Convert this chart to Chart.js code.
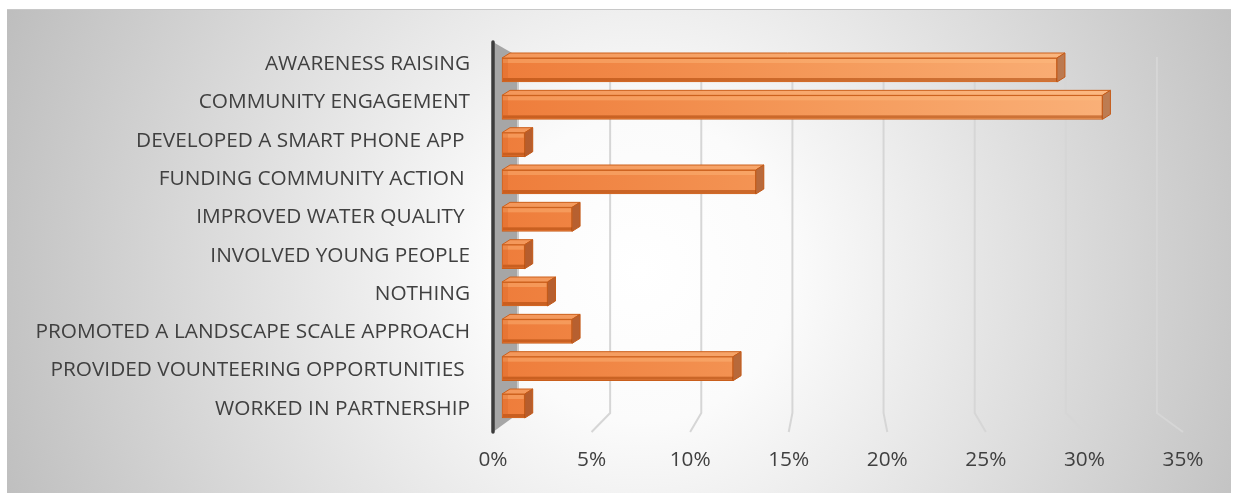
<!DOCTYPE html>
<html>
<head>
<meta charset="utf-8">
<script src="https://cdn.jsdelivr.net/npm/chart.js@4/dist/chart.umd.min.js"></script>
<style>
  html, body { margin: 0; padding: 0; background: #fff; }
  #wrap { width: 1237px; height: 494px; }
</style>
</head>
<body>
<div id="wrap"><canvas id="chart" width="1237" height="494"></canvas></div>
<script>
const categories = [
    'AWARENESS RAISING',
    'COMMUNITY ENGAGEMENT',
    'DEVELOPED A SMART PHONE APP ',
    'FUNDING COMMUNITY ACTION ',
    'IMPROVED WATER QUALITY ',
    'INVOLVED YOUNG PEOPLE',
    'NOTHING',
    'PROMOTED A LANDSCAPE SCALE APPROACH',
    'PROVIDED VOUNTEERING OPPORTUNITIES ',
    'WORKED IN PARTNERSHIP'
]
const shares = [29.3, 31.7, 1.2, 13.4, 3.7, 1.2, 2.4, 3.7, 12.2, 1.2]
const tickMax = 35
const tickStep = 5

const textColor = '#404040'
const labelFont = { family: 'Open Sans', size: 20.8 }

// 3D look: how far the back wall sits behind the front plane
const wallShift = 26
const wallShrink = 0.9246
const barDepthX = 8
const barDepthY = -5

const backX = (area, px) => area.left + wallShift + (px - area.left) * wallShrink

const backdrop = {
    id: 'backdrop',
    beforeDraw(chart) {
        const { ctx, width, height } = chart
        ctx.save()
        ctx.fillStyle = '#ffffff'
        ctx.fillRect(0, 0, width, height)
        const g = ctx.createRadialGradient(640, 270, 0, 640, 270, 690)
        g.addColorStop(0, '#ffffff')
        g.addColorStop(0.22, '#fbfbfb')
        g.addColorStop(1, '#bdbdbd')
        ctx.fillStyle = g
        ctx.fillRect(7, 9, 1224, 484)
        ctx.strokeStyle = '#c8c8c8'
        ctx.lineWidth = 1
        ctx.beginPath()
        ctx.moveTo(7, 9.5)
        ctx.lineTo(1231, 9.5)
        ctx.stroke()
        ctx.restore()
    }
}

const walls = {
    id: 'walls',
    beforeDatasetsDraw(chart) {
        const { ctx, chartArea: a } = chart
        const x = chart.scales.x
        const frontTop = a.top - 3
        const frontBottom = a.bottom + 4
        const backTop = a.top + 12
        const backBottom = a.bottom - 15
        ctx.save()

        // back wall gridlines folding onto the floor
        ctx.strokeStyle = '#d6d6d6'
        ctx.lineWidth = 2
        x.ticks.forEach(t => {
            if (t.value === 0) return
            const fx = x.getPixelForValue(t.value)
            const bx = backX(a, fx)
            ctx.beginPath()
            ctx.moveTo(bx, backTop)
            ctx.lineTo(bx, backBottom)
            ctx.lineTo(fx, frontBottom)
            ctx.stroke()
        })

        // side wall
        const x0 = x.getPixelForValue(0)
        const bx0 = backX(a, x0)
        ctx.fillStyle = '#a6a6a6'
        ctx.beginPath()
        ctx.moveTo(x0, frontTop)
        ctx.lineTo(bx0, backTop)
        ctx.lineTo(bx0, backBottom)
        ctx.lineTo(x0, frontBottom)
        ctx.closePath()
        ctx.fill()
        ctx.fillStyle = 'rgba(255,255,255,0.45)'
        ctx.fillRect(bx0 - 2, backTop, 3, backBottom - backTop)

        // front axis edge
        ctx.strokeStyle = '#3c3c3c'
        ctx.lineWidth = 3.5
        ctx.lineCap = 'round'
        ctx.beginPath()
        ctx.moveTo(x0, frontTop)
        ctx.lineTo(x0, frontBottom)
        ctx.stroke()
        ctx.restore()
    }
}

const bars3d = {
    id: 'bars3d',
    afterDatasetsDraw(chart) {
        const { ctx } = chart
        const meta = chart.getDatasetMeta(0)
        ctx.save()
        meta.data.forEach(bar => {
            const { x, y, base, height } = bar.getProps(['x', 'y', 'base', 'height'], true)
            const top = y - height / 2
            const bottom = y + height / 2

            // top face
            ctx.beginPath()
            ctx.moveTo(base, top)
            ctx.lineTo(base + barDepthX, top + barDepthY)
            ctx.lineTo(x + barDepthX, top + barDepthY)
            ctx.lineTo(x, top)
            ctx.closePath()
            ctx.fillStyle = frontFill(chart)
            ctx.fill()
            ctx.fillStyle = 'rgba(255,200,150,0.35)'
            ctx.fill()
            ctx.strokeStyle = '#cc601c'
            ctx.lineWidth = 1
            ctx.stroke()

            // end face
            ctx.beginPath()
            ctx.moveTo(x, top)
            ctx.lineTo(x + barDepthX, top + barDepthY)
            ctx.lineTo(x + barDepthX, bottom + barDepthY)
            ctx.lineTo(x, bottom)
            ctx.closePath()
            ctx.fillStyle = frontFill(chart)
            ctx.fill()
            ctx.fillStyle = 'rgba(90,40,20,0.38)'
            ctx.fill()
            ctx.strokeStyle = '#c45a18'
            ctx.stroke()

            // shading along the front face
            ctx.fillStyle = 'rgba(255,190,130,0.4)'
            ctx.fillRect(base + 1, top + 1, x - base - 2, 4)
            ctx.fillStyle = 'rgba(170,70,10,0.55)'
            ctx.fillRect(base + 1, bottom - 4, x - base - 1, 3)
            ctx.fillStyle = 'rgba(210,95,30,0.25)'
            ctx.fillRect(base + 1, top + 1, 5, height - 2)
        })
        ctx.restore()
    }
}

let fillCache = null
function frontFill(chart) {
    const a = chart.chartArea
    if (!a) return '#f3904f'
    if (fillCache && fillCache.key === a.left + ':' + a.right) return fillCache.g
    const g = chart.ctx.createLinearGradient(a.left, 0, a.right, 0)
    g.addColorStop(0, '#ee7c3a')
    g.addColorStop(0.5, '#f59b5c')
    g.addColorStop(1, '#fbb680')
    fillCache = { key: a.left + ':' + a.right, g }
    return g
}

const ctx = document.getElementById('chart').getContext('2d')
new Chart(ctx, {
    type: 'bar',
    data: {
        labels: categories,
        datasets: [{
            label: 'Share of responses',
            data: shares.map((v, i) => ({ x: v, y: i })),
            xAxisID: 'xBar',
            yAxisID: 'yBar',
            backgroundColor: c => frontFill(c.chart),
            borderColor: '#c95e1b',
            borderWidth: 1,
            borderSkipped: false,
            barThickness: 24
        }]
    },
    options: {
        indexAxis: 'y',
        responsive: false,
        animation: false,
        layout: { padding: { top: 45, right: 54, bottom: 20, left: 0 } },
        plugins: {
            legend: { display: false },
            tooltip: { enabled: false }
        },
        scales: {
            x: {
                type: 'linear',
                position: 'bottom',
                min: 0,
                max: tickMax,
                grid: { display: false, drawTicks: false },
                border: { display: false },
                ticks: {
                    stepSize: tickStep,
                    padding: 20,
                    color: textColor,
                    font: labelFont,
                    callback: v => v + '%'
                },
                afterFit: s => { s.height = 46 }
            },
            y: {
                type: 'category',
                position: 'left',
                offset: true,
                grid: { display: false, drawTicks: false },
                border: { display: false },
                ticks: { padding: 23, color: textColor, font: labelFont },
                afterFit: s => { s.width = 493 }
            },
            // the bars sit a little behind the front plane
            xBar: {
                type: 'linear',
                position: 'bottom',
                display: false,
                offset: false,
                min: -0.475,
                max: 35.955
            },
            yBar: {
                type: 'linear',
                position: 'left',
                display: false,
                offset: false,
                reverse: true,
                min: -0.67,
                max: 9.589
            }
        }
    },
    plugins: [backdrop, walls, bars3d]
})
</script>
</body>
</html>
